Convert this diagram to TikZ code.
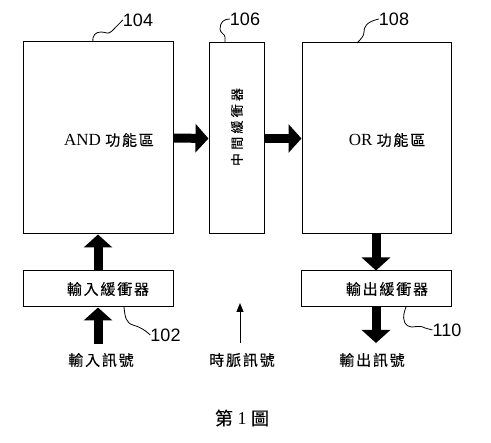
\documentclass[tikz,border=0pt]{standalone}
\usepackage{fontspec}
\setmainfont{Liberation Serif}
\newfontfamily\cjk[LetterSpace=12,FakeBold=0.3]{Noto Sans CJK TC}
\newfontfamily\cjkwide[LetterSpace=25,FakeBold=0.3]{Noto Sans CJK TC}
\newfontfamily\cjkplain[FakeBold=0.2]{Noto Sans CJK TC}
\newfontfamily\numfont{Liberation Sans}
\usetikzlibrary{arrows.meta}
\begin{document}
\begin{tikzpicture}[x=1pt,y=-1pt,
  box/.style={draw, line width=1pt, inner sep=0pt},
  fatarrow/.style={line width=9pt, -{Triangle[width=28pt,length=13pt]}},
  thinarrow/.style={line width=1pt, -{Triangle[width=7pt,length=9pt]}},
  leader/.style={line width=0.8pt},
  num/.style={font=\numfont\fontsize{18}{18}\selectfont, inner sep=0pt},
  lbl/.style={font=\cjk\fontsize{15}{15}\selectfont, inner sep=0pt}]
\useasboundingbox (0,0) rectangle (491,443);

% boxes
\node[box, minimum width=150pt, minimum height=192pt] (and) at (98,138) {};
\node[box, minimum width=55pt, minimum height=191pt] (mid) at (236.5,138.5) {};
\node[box, minimum width=149pt, minimum height=191pt] (or) at (376.5,138.5) {};
\node[box, minimum width=150pt, minimum height=36pt] (inbuf) at (98,289) {};
\node[box, minimum width=150pt, minimum height=36pt] (outbuf) at (376,289) {};

% texts inside boxes
\node[inner sep=0pt, font=\fontsize{17}{17}\selectfont] (andtxt) at (109,140) {AND {\cjk\fontsize{15}{15}\selectfont 功能區}};
\node[inner sep=0pt, font=\fontsize{17}{17}\selectfont] (ortxt) at (387,140) {OR {\cjk\fontsize{15}{15}\selectfont 功能區}};
\node[inner sep=0pt, rotate=90, font=\cjkwide\fontsize{13}{13}\selectfont] (midtxt) at (237,127) {中間緩衝器};
\node[lbl] (inbuftxt) at (108,289) {輸入緩衝器};
\node[lbl] (outbuftxt) at (387,289) {輸出緩衝器};

% signal labels
\node[lbl] (insig) at (101,360) {輸入訊號};
\node[lbl] (clk) at (242,360) {時脈訊號};
\node[lbl] (outsig) at (372,360) {輸出訊號};

% reference numerals
\node[num] (n104) at (138,20) {104};
\node[num] (n106) at (245,19) {106};
\node[num] (n108) at (394,19) {108};
\node[num] (n102) at (165.5,335) {102};
\node[num] (n110) at (447,330) {110};

% free-end coordinates
\coordinate (insigtop) at (98,344);
\coordinate (outsigtop) at (376,343);
\coordinate (clkbot) at (240,343);
\coordinate (clktop) at (240,303);
\coordinate (l104) at (93,42);
\coordinate (l106) at (225,43);
\coordinate (l108) at (357,43);
\coordinate (l102) at (124,307);
\coordinate (l110) at (406,307);

% thick arrows
\draw[fatarrow] (and.east) -- (mid.west);
\draw[fatarrow] (mid.east) -- (or.west);
\draw[fatarrow] (inbuf.north) -- (and.south);
\draw[fatarrow] (insigtop) -- (inbuf.south);
\draw[fatarrow] (or.south -| outbuf.north) -- (outbuf.north);
\draw[fatarrow] (outbuf.south) -- (outsigtop);
\draw[thinarrow] (clkbot) -- (clktop);

% leaders
\draw[leader] (l104) .. controls (92,35) and (96,32) .. (101,32)
  .. controls (106,32) and (108,35) .. (112,31) -- (n104.west);
\draw[leader] (l106) -- (225,37) .. controls (225,34) and (220,33) .. (220,29)
  .. controls (220,22) and (224,19) .. (n106.west);
\draw[leader] (l108) .. controls (361,39) and (364,36) .. (364,32)
  .. controls (364,27) and (366,22) .. (n108.west);
\draw[leader] (l102) .. controls (125,317) and (126,323) .. (133,325)
  .. controls (140,327) and (145,330) .. (n102.west);
\draw[leader] (l110) .. controls (403,315) and (402,322) .. (408,326)
  .. controls (413,329) and (418,324) .. (425,328) -- (n110.west);

% caption
\node[inner sep=0pt, font=\fontsize{18}{18}\selectfont] (cap) at (242,418) {{\cjkplain 第} 1 {\cjkplain 圖}};
\end{tikzpicture}
\end{document}
